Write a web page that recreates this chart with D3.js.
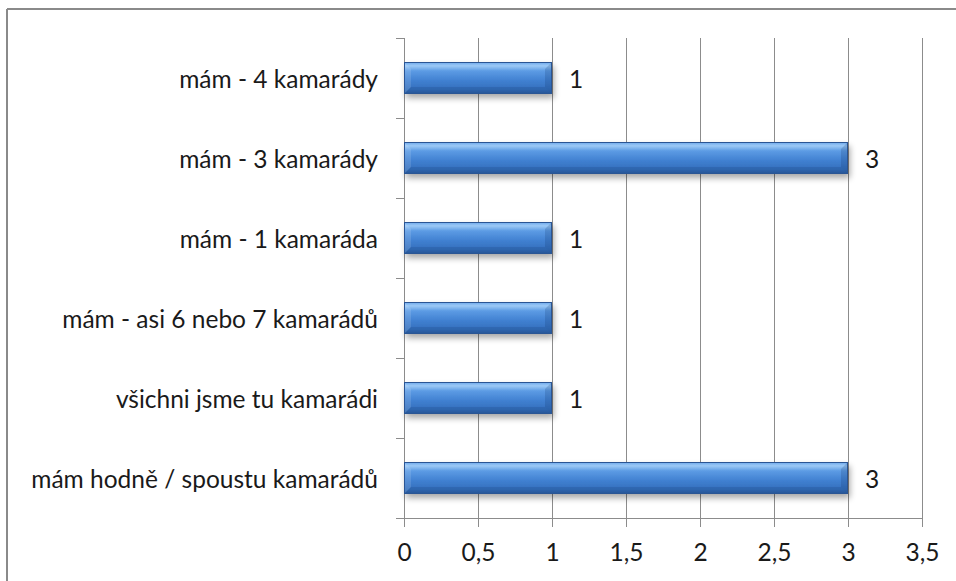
<!DOCTYPE html>
<html>
<head>
<meta charset="utf-8">
<script src="https://cdn.jsdelivr.net/npm/d3@7"></script>
<style>
  html, body { margin: 0; padding: 0; background: #fff; }
  svg { display: block; }
  text { font-family: Lato, "Open Sans", sans-serif; fill: #1a1a1a; }
</style>
</head>
<body>
<svg id="chart" width="956" height="581"></svg>
<script>
// Survey answers (top to bottom) and their counts
const categories = [
  "mám - 4 kamarády",
  "mám - 3 kamarády",
  "mám - 1 kamaráda",
  "mám - asi 6 nebo 7 kamarádů",
  "všichni jsme tu kamarádi",
  "mám hodně / spoustu kamarádů"
];
const values = [1, 3, 1, 1, 1, 3];
const xTicks = [0, 0.5, 1, 1.5, 2, 2.5, 3, 3.5];

const svg = d3.select("#chart");
const W = 956, H = 581;
const plot = { left: 404, right: 922, top: 38, bottom: 518 };
const FONT = "24.5px";

const x = d3.scaleLinear().domain([0, 3.5]).range([plot.left, plot.right]);
const y = d3.scaleBand().domain(categories).range([plot.top, plot.bottom])
  .paddingInner(0.6).paddingOuter(0.3);

const fmt = v => String(v).replace(".", ",");

// Outer chart frame (top and left edges)
svg.append("line").attr("x1", 7).attr("x2", W).attr("y1", 9).attr("y2", 9)
  .attr("stroke", "#8a8a8a").attr("stroke-width", 2);
svg.append("line").attr("x1", 7).attr("x2", 7).attr("y1", 9).attr("y2", H)
  .attr("stroke", "#8a8a8a").attr("stroke-width", 2);

const defs = svg.append("defs");
const grad = defs.append("linearGradient").attr("id", "barFace")
  .attr("x1", 0).attr("y1", 0).attr("x2", 0).attr("y2", 1);
[
  [0, "#6aa6ea"], [0.12, "#9cc9f6"], [0.28, "#5c9be4"],
  [0.6, "#3f7fd0"], [0.85, "#3570bd"], [1, "#2b5c9e"]
].forEach(([o, c]) => grad.append("stop").attr("offset", o).attr("stop-color", c));

const shadow = defs.append("filter").attr("id", "barShadow")
  .attr("x", "-5%").attr("y", "-30%").attr("width", "115%").attr("height", "180%");
shadow.append("feGaussianBlur").attr("in", "SourceAlpha").attr("stdDeviation", 3);
shadow.append("feOffset").attr("dx", 2).attr("dy", 4).attr("result", "blur");
shadow.append("feComponentTransfer").append("feFuncA").attr("type", "linear").attr("slope", 0.35);
const merge = shadow.append("feMerge");
merge.append("feMergeNode");
merge.append("feMergeNode").attr("in", "SourceGraphic");

// Vertical gridlines
svg.append("g").selectAll("line").data(xTicks.slice(1)).join("line")
  .attr("x1", d => x(d)).attr("x2", d => x(d))
  .attr("y1", plot.top).attr("y2", plot.bottom)
  .attr("stroke", "#8c8c8c").attr("stroke-width", 1).attr("shape-rendering", "crispEdges");

// X axis
const xAxis = svg.append("g").attr("transform", `translate(0,${plot.bottom})`)
  .call(d3.axisBottom(x).tickValues(xTicks).tickFormat(fmt).tickSize(9).tickPadding(14));
xAxis.select(".domain").remove();
xAxis.append("line").attr("x1", plot.left - 8).attr("x2", plot.right)
  .attr("stroke", "#8c8c8c").attr("shape-rendering", "crispEdges");
xAxis.selectAll(".tick line").attr("stroke", "#8c8c8c").attr("shape-rendering", "crispEdges");
xAxis.selectAll(".tick text").style("font-size", FONT).attr("fill", "#1a1a1a")
  .attr("dy", null).attr("y", 33).attr("dominant-baseline", "central");

// Y axis: line, boundary ticks, category labels
svg.append("line").attr("x1", plot.left).attr("x2", plot.left)
  .attr("y1", plot.top).attr("y2", plot.bottom)
  .attr("stroke", "#8c8c8c").attr("shape-rendering", "crispEdges");
const bounds = categories.map(c => y(c) - y.step() * y.paddingInner() / 2);
bounds.push(plot.bottom);
svg.append("g").selectAll("line").data(bounds).join("line")
  .attr("x1", plot.left - 8).attr("x2", plot.left)
  .attr("y1", d => d).attr("y2", d => d)
  .attr("stroke", "#8c8c8c").attr("shape-rendering", "crispEdges");
svg.append("g").selectAll("text").data(categories).join("text")
  .attr("x", plot.left - 26).attr("y", d => y(d) + y.bandwidth() / 2)
  .attr("text-anchor", "end").attr("dominant-baseline", "central")
  .style("font-size", FONT).text(d => d);

// Bars with bevelled ends
const data = categories.map((c, i) => ({ c, v: values[i] }));
const bars = svg.append("g").selectAll("g").data(data).join("g");
const bw = y.bandwidth(), bev = 7;
bars.append("rect")
  .attr("x", x(0)).attr("y", d => y(d.c))
  .attr("width", d => x(d.v) - x(0)).attr("height", bw)
  .attr("fill", "url(#barFace)").attr("filter", "url(#barShadow)");
// left bevel (lighter)
bars.append("path")
  .attr("d", d => {
    const x0 = x(0), y0 = y(d.c);
    return `M${x0},${y0} L${x0 + bev},${y0 + bev} L${x0 + bev},${y0 + bw - bev} L${x0},${y0 + bw} Z`;
  })
  .attr("fill", "#ffffff").attr("opacity", 0.12);
// right bevel (darker)
bars.append("path")
  .attr("d", d => {
    const x1 = x(d.v), y0 = y(d.c);
    return `M${x1},${y0} L${x1 - bev},${y0 + bev} L${x1 - bev},${y0 + bw - bev} L${x1},${y0 + bw} Z`;
  })
  .attr("fill", "#0a2a60").attr("opacity", 0.18);
// bottom bevel
bars.append("path")
  .attr("d", d => {
    const x0 = x(0), x1 = x(d.v), y1 = y(d.c) + bw;
    return `M${x0},${y1} L${x0 + bev},${y1 - bev} L${x1 - bev},${y1 - bev} L${x1},${y1} Z`;
  })
  .attr("fill", "#0a2a60").attr("opacity", 0.15);
bars.append("rect")
  .attr("x", d => x(0) + 0.5).attr("y", d => y(d.c) + 0.5)
  .attr("width", d => x(d.v) - x(0) - 1).attr("height", bw - 1)
  .attr("fill", "none").attr("stroke", "#2a5594").attr("stroke-width", 1);

// Value labels
bars.append("text")
  .attr("x", d => x(d.v) + 17).attr("y", d => y(d.c) + bw / 2)
  .attr("dominant-baseline", "central")
  .style("font-size", FONT).text(d => fmt(d.v));
</script>
</body>
</html>
